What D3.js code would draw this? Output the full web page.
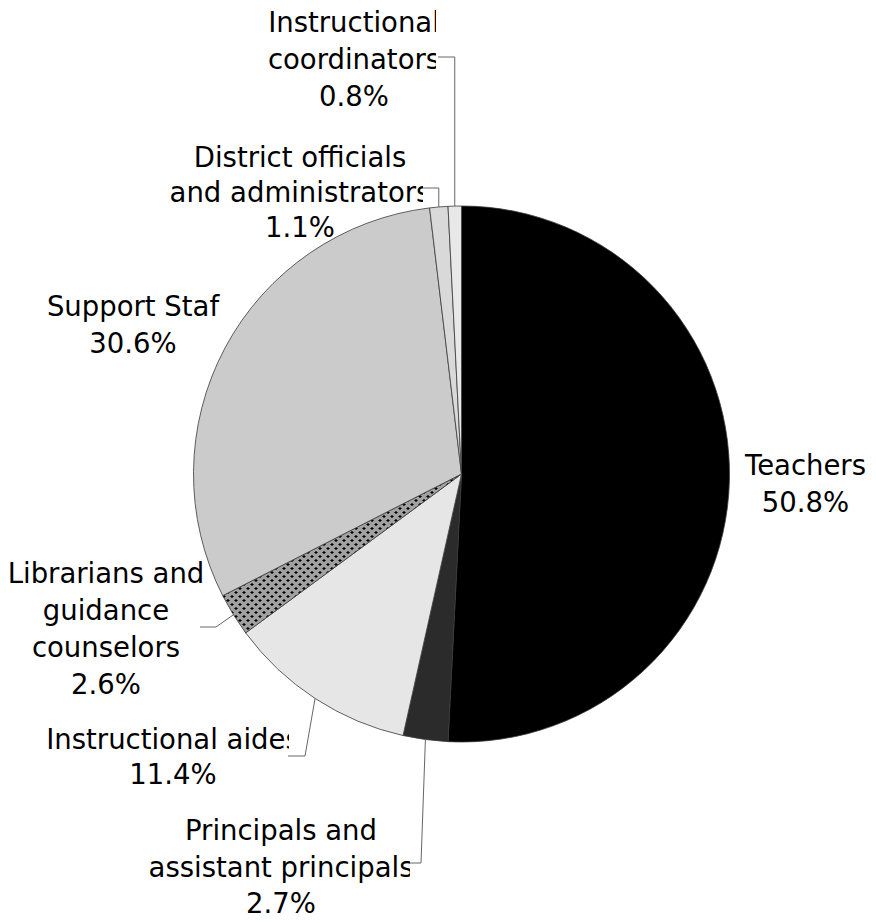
<!DOCTYPE html>
<html>
<head>
<meta charset="utf-8">
<script src="https://cdn.jsdelivr.net/npm/d3@7"></script>
<style>
  html, body { margin: 0; padding: 0; background: #fff; }
  svg { display: block; }
  text { font-family: "DejaVu Sans", Verdana, sans-serif; font-size: 27.5px; fill: #000; }
</style>
</head>
<body>
<svg id="chart" width="876" height="923"></svg>
<script>
// ---- data ----
const categories = [
  "Teachers",
  "Principals and assistant principals",
  "Instructional aides",
  "Librarians and guidance counselors",
  "Support Staf",
  "District officials and administrators",
  "Instructional coordinators"
];
const values = [50.8, 2.7, 11.4, 2.6, 30.6, 1.1, 0.8];
const labelLines = [
  ["Teachers"],
  ["Principals and", "assistant principals"],
  ["Instructional aides"],
  ["Librarians and", "guidance", "counselors"],
  ["Support Staf"],
  ["District officials", "and administrators"],
  ["Instructional", "coordinators"]
];

// ---- layout / style (not data) ----
const W = 876, H = 923;
const cx = 461.5, cy = 474, R = 268;
const fills = ["#000000", "#2b2b2b", "#e6e6e6", "url(#dots)", "#cbcbcb", "#d9d9d9", "#e8e8e8"];
// label block: center x, first baseline, line height, clip right edge (null = none)
const labelLayout = [
  { x: 805.5, y: 475, lh: 37, clip: null },
  { x: 281,   y: 840, lh: 36.5, clip: 410 },
  { x: 173,   y: 749, lh: 35, clip: 289 },
  { x: 106,   y: 583, lh: 37, clip: null },
  { x: 133,   y: 316, lh: 37, clip: null },
  { x: 300,   y: 167, lh: 35, clip: 423 },
  { x: 354,   y: 32,  lh: 37, clip: 436 }
];
// leader lines: elbow and end points (null = no leader)
const leaders = [
  null,
  { elbow: [421, 863], end: [410, 863] },
  { elbow: [305, 756], end: [288, 756] },
  { elbow: [216, 627], end: [200, 627] },
  null,
  { elbow: [null, 188], end: [423, 188] },
  { elbow: [null, 57],  end: [438, 57] }
];

const svg = d3.select("#chart");
const defs = svg.append("defs");

// dotted pattern for librarians slice
const pat = defs.append("pattern")
  .attr("id", "dots").attr("patternUnits", "userSpaceOnUse")
  .attr("width", 8).attr("height", 8);
pat.append("rect").attr("width", 8).attr("height", 8).attr("fill", "#c8c8c8");
for (let i = 0; i < 8; i++) for (let j = 0; j < 8; j++) {
  if ((i + j) % 2 === 0) pat.append("rect").attr("x", i).attr("y", j).attr("width", 1).attr("height", 1).attr("fill", "#7a7a7a");
}
[[2, 2], [6, 6]].forEach(([px, py]) => {
  pat.append("rect").attr("x", px - 1).attr("y", py).attr("width", 3).attr("height", 1).attr("fill", "#000");
  pat.append("rect").attr("x", px).attr("y", py - 1).attr("width", 1).attr("height", 3).attr("fill", "#000");
});

const data = categories.map((c, i) => ({ cat: c, value: values[i], i }));
const pie = d3.pie().sort(null).value(d => d.value);
const arcs = pie(data);
const arc = d3.arc().innerRadius(0).outerRadius(R);

const g = svg.append("g").attr("transform", `translate(${cx},${cy})`);
g.selectAll("path.slice")
  .data(arcs)
  .join("path")
  .attr("class", "slice")
  .attr("d", arc)
  .attr("fill", d => fills[d.data.i])
  .attr("stroke", "#3a3a3a")
  .attr("stroke-width", 0.8);

// leader lines
arcs.forEach(a => {
  const L = leaders[a.data.i];
  if (!L) return;
  const mid = (a.startAngle + a.endAngle) / 2;
  const sx = cx + R * Math.sin(mid), sy = cy - R * Math.cos(mid);
  const ex = L.elbow[0] == null ? sx : L.elbow[0];
  svg.append("polyline")
    .attr("points", [[sx, sy], [ex, L.elbow[1]], L.end].map(p => p.join(",")).join(" "))
    .attr("fill", "none")
    .attr("stroke", "#666")
    .attr("stroke-width", 1);
});

// labels
data.forEach(d => {
  const lay = labelLayout[d.i];
  const lines = labelLines[d.i].concat([d.value.toFixed(1) + "%"]);
  const grp = svg.append("g");
  if (lay.clip != null) {
    const id = "clip" + d.i;
    defs.append("clipPath").attr("id", id)
      .append("rect").attr("x", 0).attr("y", 0).attr("width", lay.clip).attr("height", H);
    grp.attr("clip-path", `url(#${id})`);
  }
  lines.forEach((t, k) => {
    grp.append("text")
      .attr("x", lay.x)
      .attr("y", lay.y + k * lay.lh)
      .attr("text-anchor", "middle")
      .text(t);
  });
});
</script>
</body>
</html>
